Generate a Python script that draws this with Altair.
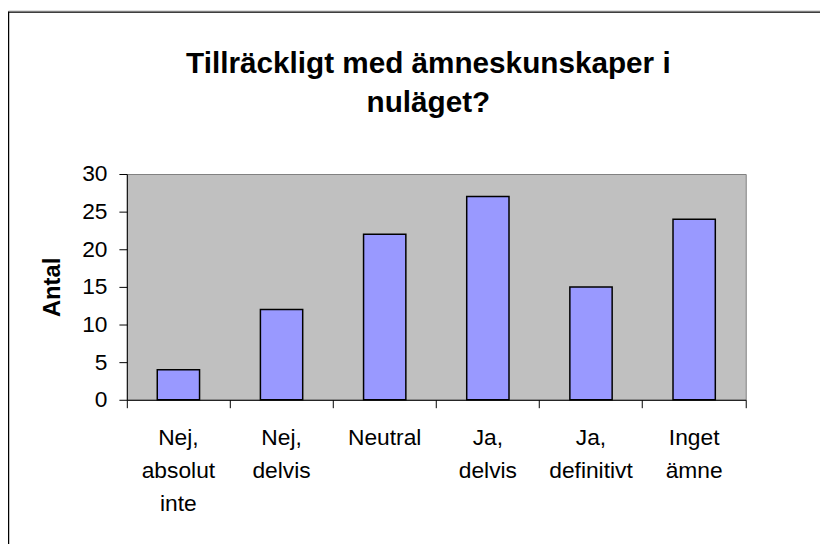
import altair as alt
import pandas as pd

categories = ["Nej,|absolut|inte", "Nej,|delvis", "Neutral", "Ja,|delvis", "Ja,|definitivt", "Inget|ämne"]
values = [4, 12, 22, 27, 15, 24]
y_ticks = [0, 5, 10, 15, 20, 25, 30]
title_lines = ["Tillräckligt med ämneskunskaper i", "nuläget?"]
y_title = "Antal"

df = pd.DataFrame({"kategori": categories, "antal": values})

W, H = 625, 228
FONT = "Liberation Sans"

x_enc = alt.X(
    "kategori:N", sort=categories, title=None,
    scale=alt.Scale(paddingInner=0, paddingOuter=0),
    axis=alt.Axis(
        labelAngle=0, labelExpr="split(datum.label, '|')", labelLineHeight=33.5,
        labelFontSize=23, labelFont=FONT, labelColor="black", labelPadding=19,
        tickSize=8, tickColor="black", tickWidth=1, domainColor="black", domainWidth=1,
        bandPosition=1, tickExtra=True, labelLimit=0, labelOverlap=False, grid=False,
    ),
)
y_enc = alt.Y(
    "antal:Q", scale=alt.Scale(domain=[0, 30], nice=False),
    axis=alt.Axis(
        values=y_ticks, title=y_title, titleFontSize=24, titleFont=FONT,
        titleFontWeight="bold", titleColor="black", titlePadding=17,
        labelFontSize=23, labelFont=FONT, labelColor="black", labelPadding=12,
        tickSize=8, tickColor="black", tickWidth=1, domainColor="black", domainWidth=1,
        grid=False,
    ),
)

bars = alt.Chart(df).mark_bar(
    width=alt.RelativeBandSize(0.41), color="#9999FF", stroke="black", strokeWidth=1.5
).encode(x=x_enc, y=y_enc)

frame_df = pd.DataFrame({"a": [0]})
border = alt.Chart(frame_df).mark_rect(
    fillOpacity=0, stroke="black", strokeWidth=1.5
).encode(
    x=alt.value(-119.5), x2=alt.value(W + 200),
    y=alt.value(-163.5), y2=alt.value(H + 300),
)
topline = alt.Chart(frame_df).mark_rule(color="#a8a8a8", strokeWidth=1).encode(
    x=alt.value(-119.5), x2=alt.value(W + 200), y=alt.value(-164.5)
)

chart = alt.layer(bars, border, topline).properties(
    width=W, height=H,
    title=alt.TitleParams(
        title_lines, fontSize=30, font=FONT, fontWeight="bold", color="black",
        anchor="middle", dx=-8, dy=166, offset=58, lineHeight=39,
    ),
    autosize=alt.AutoSizeParams(type="none"),
    padding={"left": 120, "top": 165, "right": 75, "bottom": 143},
).configure(
    background="white",
    view=alt.ViewConfig(fill="#C0C0C0", stroke="#808080", strokeWidth=1),
)

chart.save("out.html", embed_options={"renderer": "svg", "actions": False})
